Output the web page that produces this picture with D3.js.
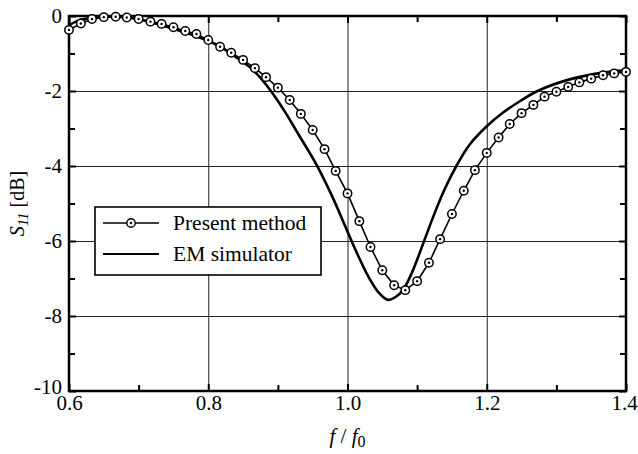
<!DOCTYPE html>
<html lang="en">
<head>
  <meta charset="UTF-8">
  <title>S11 vs normalized frequency</title>
  <script src="https://d3js.org/d3.v7.min.js"></script>
  <style>
    body {
      margin: 0;
      padding: 0;
      background: #fff;
    }
  </style>
</head>
<body>
  <svg id="chart"></svg>

  <script>
    // Present method samples (circles)
    const presentF = [0.600, 0.617, 0.633, 0.650, 0.667, 0.683, 0.700, 0.717, 0.733, 0.750,
                      0.767, 0.783, 0.800, 0.817, 0.833, 0.850, 0.867, 0.883, 0.900, 0.917,
                      0.933, 0.950, 0.967, 0.983, 1.000, 1.017, 1.033, 1.050, 1.067, 1.083,
                      1.100, 1.117, 1.133, 1.150, 1.167, 1.183, 1.200, 1.217, 1.233, 1.250,
                      1.267, 1.283, 1.300, 1.317, 1.333, 1.350, 1.367, 1.383, 1.400];
    const presentDb = [-0.37, -0.20, -0.08, -0.03, -0.02, -0.04, -0.08, -0.15, -0.21, -0.30,
                       -0.40, -0.48, -0.64, -0.82, -0.98, -1.17, -1.39, -1.63, -1.91, -2.24,
                       -2.61, -3.04, -3.55, -4.13, -4.73, -5.47, -6.16, -6.78, -7.18, -7.31,
                       -7.07, -6.58, -5.95, -5.28, -4.66, -4.11, -3.65, -3.24, -2.88, -2.59,
                       -2.37, -2.15, -2.02, -1.89, -1.77, -1.67, -1.58, -1.53, -1.49];

    // EM simulator curve (solid line)
    const emF = [0.600, 0.615, 0.635, 0.660, 0.685, 0.710, 0.730, 0.755, 0.780, 0.800,
                 0.820, 0.840, 0.860, 0.875, 0.890, 0.910, 0.931, 0.955, 0.979, 1.000,
                 1.015, 1.030, 1.045, 1.058, 1.070, 1.080, 1.090, 1.100, 1.110, 1.127,
                 1.140, 1.157, 1.175, 1.200, 1.223, 1.247, 1.273, 1.319, 1.367, 1.400];
    const emDb = [-0.25, -0.11, -0.05, -0.02, -0.04, -0.13, -0.23, -0.37, -0.52, -0.66,
                  -0.85, -1.10, -1.37, -1.65, -2.00, -2.55, -3.20, -3.95, -4.85, -5.75,
                  -6.38, -6.95, -7.38, -7.57, -7.48, -7.30, -6.95, -6.50, -6.00, -5.17,
                  -4.60, -3.98, -3.44, -2.94, -2.58, -2.28, -2.00, -1.69, -1.51, -1.45];

    const xTicks = [0.6, 0.8, 1.0, 1.2, 1.4];
    const xMinor = [0.7, 0.9, 1.1, 1.3];
    const yTicks = [0, -2, -4, -6, -8, -10];
    const yMinor = [-1, -3, -5, -7, -9];
    const seriesNames = ["Present method", "EM simulator"];

    const serif = "'Liberation Serif', 'Times New Roman', 'DejaVu Serif', serif";
    const width = 638, height = 454;
    const margin = {top: 16, right: 12, bottom: 63, left: 69};
    const plotW = width - margin.left - margin.right;
    const plotH = height - margin.top - margin.bottom;

    const svg = d3.select("#chart").attr("width", width).attr("height", height);
    const g = svg.append("g").attr("transform", `translate(${margin.left},${margin.top})`);

    const x = d3.scaleLinear().domain([0.6, 1.4]).range([0, plotW]);
    const y = d3.scaleLinear().domain([0, -10]).range([0, plotH]);

    // grid lines
    g.append("g")
      .attr("transform", `translate(0,${plotH})`)
      .call(d3.axisBottom(x).tickValues(xTicks.slice(1, -1)).tickSize(-plotH).tickFormat(""))
      .call(s => s.select(".domain").remove())
      .call(s => s.selectAll("line").attr("stroke", "#222").attr("stroke-width", 1));
    g.append("g")
      .call(d3.axisLeft(y).tickValues(yTicks.slice(1, -1)).tickSize(-plotW).tickFormat(""))
      .call(s => s.select(".domain").remove())
      .call(s => s.selectAll("line").attr("stroke", "#222").attr("stroke-width", 1));

    // axes with inward ticks
    const fmtX = d3.format(".1f");
    const bottom = g.append("g")
      .attr("transform", `translate(0,${plotH})`)
      .call(d3.axisBottom(x).tickValues(xTicks).tickSizeInner(-7).tickSizeOuter(0).tickPadding(4).tickFormat(fmtX));
    const left = g.append("g")
      .call(d3.axisLeft(y).tickValues(yTicks).tickSizeInner(-7).tickSizeOuter(0).tickPadding(7).tickFormat(d => String(d)));
    g.append("g")
      .call(d3.axisTop(x).tickValues(xTicks).tickSizeInner(-7).tickSizeOuter(0).tickFormat(""));
    g.append("g")
      .attr("transform", `translate(${plotW},0)`)
      .call(d3.axisRight(y).tickValues(yTicks).tickSizeInner(-7).tickSizeOuter(0).tickFormat(""));

    // minor ticks
    g.append("g").attr("transform", `translate(0,${plotH})`)
      .call(d3.axisBottom(x).tickValues(xMinor).tickSizeInner(-6).tickSizeOuter(0).tickFormat(""));
    g.append("g")
      .call(d3.axisTop(x).tickValues(xMinor).tickSizeInner(-6).tickSizeOuter(0).tickFormat(""));
    g.append("g")
      .call(d3.axisLeft(y).tickValues(yMinor).tickSizeInner(-6).tickSizeOuter(0).tickFormat(""));
    g.append("g").attr("transform", `translate(${plotW},0)`)
      .call(d3.axisRight(y).tickValues(yMinor).tickSizeInner(-6).tickSizeOuter(0).tickFormat(""));

    g.selectAll(".domain").remove();
    g.selectAll(".tick line").filter(function () { return !this.getAttribute("stroke-width"); })
      .attr("stroke", "#000").attr("stroke-width", 2);
    g.selectAll(".tick text").attr("fill", "#000")
      .style("font-family", serif).style("font-size", "21px");
    bottom.selectAll(".tick text").attr("dy", "0.71em");
    // last labels sit tight against the corner / right edge, as in the figure
    bottom.selectAll(".tick text").filter(d => d === 1.4).attr("dx", -2);
    left.selectAll(".tick text").filter(d => d === -10).attr("dy", "0.12em");

    // frame
    g.append("rect").attr("width", plotW).attr("height", plotH)
      .attr("fill", "none").attr("stroke", "#000").attr("stroke-width", 2.5);

    // EM simulator line
    const emData = emF.map((f, i) => [f, emDb[i]]);
    g.append("path")
      .datum(emData)
      .attr("fill", "none").attr("stroke", "#000").attr("stroke-width", 2.6)
      .attr("d", d3.line().x(d => x(d[0])).y(d => y(d[1])).curve(d3.curveCatmullRom.alpha(0.5)));

    // Present method line + markers
    const presentData = presentF.map((f, i) => [f, presentDb[i]]);
    g.append("path")
      .datum(presentData)
      .attr("fill", "none").attr("stroke", "#000").attr("stroke-width", 1.6)
      .attr("d", d3.line().x(d => x(d[0])).y(d => y(d[1])));

    const marks = g.append("g").selectAll("g").data(presentData).join("g")
      .attr("transform", d => `translate(${x(d[0])},${y(d[1])})`);
    marks.append("circle").attr("r", 4.2).attr("fill", "#fff").attr("stroke", "#000").attr("stroke-width", 1.5);
    marks.append("circle").attr("r", 1.2).attr("fill", "#000");

    // legend
    const lg = svg.append("g").attr("transform", "translate(95,207)");
    lg.append("rect").attr("width", 226).attr("height", 68)
      .attr("fill", "#fff").attr("stroke", "#000").attr("stroke-width", 1.6);
    seriesNames.forEach((name, i) => {
      const ly = 16 + i * 31;
      lg.append("line").attr("x1", 8).attr("x2", 64).attr("y1", ly).attr("y2", ly)
        .attr("stroke", "#000").attr("stroke-width", i === 0 ? 1.6 : 2);
      if (i === 0) {
        lg.append("circle").attr("cx", 36).attr("cy", ly).attr("r", 4.2)
          .attr("fill", "#fff").attr("stroke", "#000").attr("stroke-width", 1.4);
        lg.append("circle").attr("cx", 36).attr("cy", ly).attr("r", 1.2).attr("fill", "#000");
      }
      lg.append("text").attr("x", 78).attr("y", ly + 7)
        .style("font-family", serif).style("font-size", "21.5px").text(name);
    });

    // axis titles
    const yl = svg.append("text")
      .attr("transform", `translate(24,${margin.top + plotH / 2}) rotate(-90)`)
      .attr("text-anchor", "middle")
      .style("font-family", serif).style("font-size", "20px");
    yl.append("tspan").attr("font-style", "italic").text("S");
    yl.append("tspan").attr("font-style", "italic").style("font-size", "15px").attr("dy", 4).text("11");
    yl.append("tspan").attr("dy", -4).text(" [dB]");

    const xl = svg.append("text")
      .attr("x", margin.left + plotW / 2).attr("y", 443)
      .attr("text-anchor", "middle")
      .style("font-family", serif).style("font-size", "21px");
    xl.append("tspan").attr("font-style", "italic").text("f");
    xl.append("tspan").text(" / ");
    xl.append("tspan").attr("font-style", "italic").text("f");
    xl.append("tspan").style("font-size", "16px").attr("dy", 4).text("0");
  </script>
</body>
</html>
